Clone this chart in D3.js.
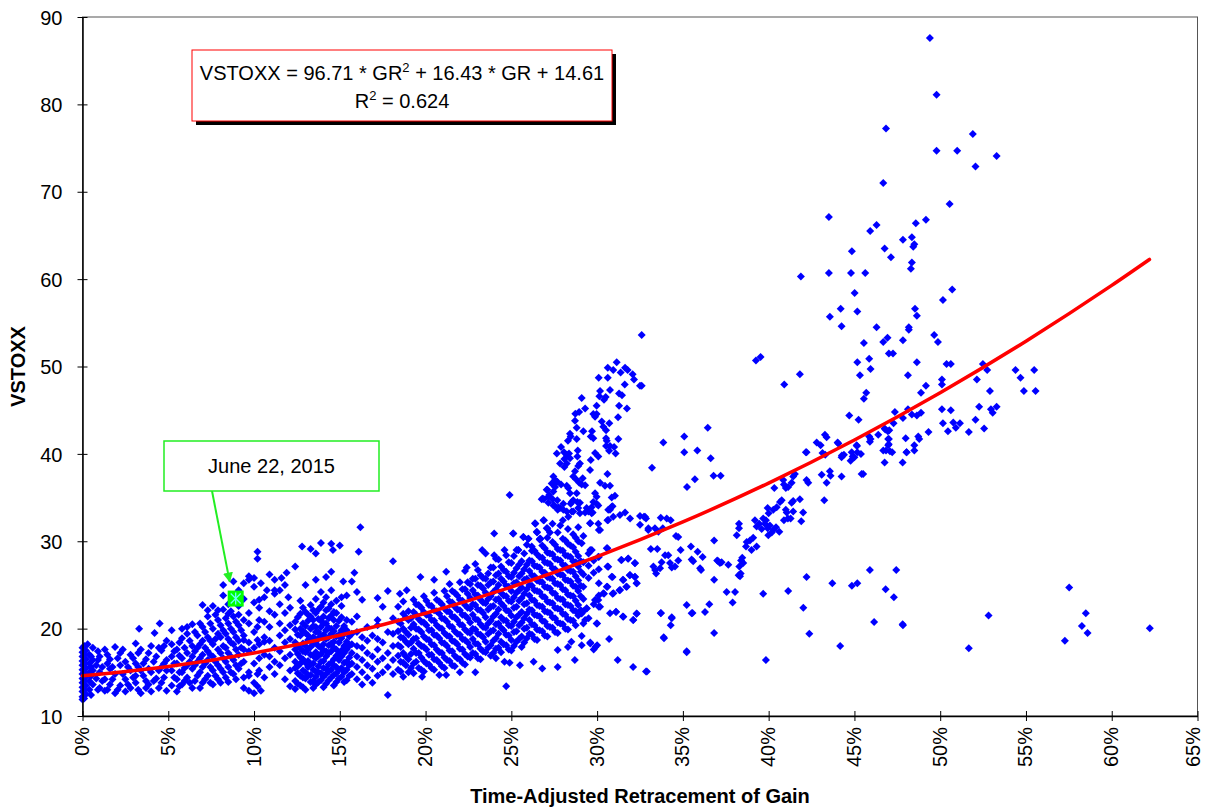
<!DOCTYPE html>
<html>
<head>
<meta charset="utf-8">
<script src="https://cdnjs.cloudflare.com/ajax/libs/d3/7.8.5/d3.min.js"></script>
<style>
  body { margin: 0; background: #fff; }
  svg text { font-family: "Liberation Sans", Arial, sans-serif; fill: #000; }
</style>
</head>
<body>
<svg id="chart" width="1206" height="807"></svg>
<script>
// x = time-adjusted retracement of gain (%), y = VSTOXX

// columns of the dense band near the axis, [gain, [vstoxx...]]
const band0to5 = [
  [0, [11.9, 12.2, 12.8, 13.3, 13.8, 14.3, 14.8, 15.3, 15.8, 16.3, 16.8, 17.3, 17.8]],
  [0.1, [12.0, 13.0, 14.0, 15.0, 16.0, 17.0, 18.0]],
  [0.2, [12.5, 13.5, 14.5, 15.5, 16.5, 17.5]], [0.3, [18.2]],
  [0.4, [13, 14, 15, 16, 17]], [0.5, [12.4, 14.6, 15.6, 16.8]],
  [0.6, [13.6, 15.2, 16.4, 17.8]], [0.8, [14.3, 15.8]], [0.9, [13.0, 16.4, 17.4]],
  [1, [13.2, 15, 16.8]], [1.15, [14.0, 15.6]], [1.3, [12.9, 14.2, 17.6]], [1.45, [13.0, 16.0, 17.0]],
  [1.6, [13.6, 15.4, 16.5]], [1.75, [14.2, 15.6]], [1.9, [12.6, 14.8, 17.9]], [2.05, [13.0, 16.6]],
  [2.2, [13.5, 15.8, 17.2]], [2.35, [14.8, 17.6]], [2.5, [12.8, 14.2, 16.2]], [2.65, [13.6, 15.6]],
  [2.8, [13.2, 15.2, 17.0]], [2.95, [14.4, 16.6]], [3.1, [13.8, 14.6, 16.0, 18.3]],
  [3.25, [13.0, 15.6, 17.2]], [3.3, [20.0]], [3.4, [12.6, 15.2, 17.6]], [3.55, [14.6, 16.0]],
  [3.7, [13.2, 14.0, 16.5]], [3.85, [13.6, 15.4, 17.2]], [4.0, [12.8, 15.0, 18.0]], [4.15, [14.0, 16.2]],
  [4.2, [19.5]], [4.3, [14.3, 16.8]], [4.45, [13.2, 15.2, 17.8]], [4.5, [20.6]],
  [4.6, [13.8, 15.6, 17.5]], [4.75, [14.4, 16.0, 18.0]], [4.9, [12.9, 15.2, 16.4, 18.6]]
];

const band5to12 = [
  [5.2, [13.5, 15.2, 16.8, 18.2, 19.8]], [5.35, [14.4, 16.0, 17.4]], [5.5, [12.8, 14.2, 16.0, 17.6]],
  [5.65, [13.4, 15.0, 16.9, 18.4]], [5.8, [13.6, 15.0, 16.6, 18.9, 20.0]], [5.95, [14.0, 15.5, 17.8]],
  [6.1, [14.4, 15.8, 17.2, 19.4, 20.2]], [6.25, [13.8, 16.2, 18.6]],
  [6.4, [13.2, 15.4, 16.8, 18.0, 20.5]], [6.55, [14.0, 15.8, 17.4, 19.6]], [6.7, [14.6, 16.2, 17.8, 19.2]],
  [6.85, [13.2, 15.0, 16.6, 18.2, 20.6]], [7.0, [13.8, 15.6, 17.0, 18.6, 20.2, 22.7]],
  [7.15, [14.2, 16.0, 17.8, 19.6]], [7.3, [14.6, 16.4, 17.4, 19.0, 21.4, 22.1]],
  [7.45, [13.8, 15.6, 17.0, 18.6, 20.6]], [7.6, [13.6, 15.2, 16.8, 18.2, 20.0, 22.6]],
  [7.75, [14.6, 16.2, 18.8, 21.6]], [7.9, [14.2, 15.8, 17.6, 19.4, 21.0, 22.1]],
  [8.05, [13.8, 15.4, 17.2, 19.0, 20.4]], [8.2, [15.0, 16.6, 18.0, 19.8, 22.2, 23.8, 25.0]],
  [8.35, [14.4, 16.2, 17.8, 19.4, 21.2]], [8.5, [13.9, 15.6, 17.2, 18.8, 20.6, 21.7, 22.8]],
  [8.65, [15.0, 16.8, 18.4, 20.0, 22.0]], [8.8, [14.8, 16.4, 18.2, 19.6, 21.4, 23.8, 25.4]],
  [8.95, [14.2, 15.8, 17.6, 19.0, 20.8]], [9.1, [15.4, 17.0, 18.6, 20.4, 21.6, 22.6, 24.4]],
  [9.25, [16.0, 17.8, 19.8]], [9.4, [13.2, 14.4, 16.2, 17.6, 18.7, 19.2, 21.0, 23.4, 25.2]],
  [9.7, [12.9, 14.6, 15.0, 17.4, 18.4, 20.6, 21.8, 25.6, 26.0]],
  [10.0, [12.6, 13.8, 16.0, 17.8, 19.6, 23.0, 24.8, 25.8]],
  [10.2, [13.4, 14.8, 18.7, 20.2, 28.0, 28.8]], [10.3, [15.2, 16.6, 18.2, 21.0, 22.4, 23.3]],
  [10.4, [12.9, 25.2]], [10.6, [14.4, 17.0, 18.5, 19.0, 20.8, 23.6]], [10.75, [24.4]],
  [10.9, [15.6, 16.8, 18.6, 20.2, 22.0, 26.2]], [11.2, [14.8, 16.2, 17.8, 21.6, 24.0, 24.4, 25.6]],
  [11.5, [15.8, 17.4, 19.2, 20.6, 22.8, 24.4]], [11.6, [25.8]],
  [11.8, [14.2, 16.6, 18.4, 19.8, 21.8, 25.0]], [11.9, [26.4]], [12.0, [23.6]],
  [12.1, [13.4, 15.2, 17.0, 18.8, 20.4, 22.4]]
];

const blob12to18 = [
  [12.4, [13.1, 14.0, 15.5, 16.2, 17.6, 18.4, 19.9, 20.8, 27.1]],
  [12.55, [13.7, 14.9, 15.7, 17.1, 18.0, 19.3, 21.3]],
  [12.7, [13.5, 14.6, 16.0, 16.7, 17.7, 19.2, 20.0, 21.7, 23.2]], [12.8, [29.4]],
  [12.85, [13.3, 14.4, 15.2, 16.5, 17.4, 18.3, 19.7, 20.6, 22.4]],
  [13.0, [13.0, 14.3, 15.0, 16.1, 17.3, 18.0, 19.5, 20.3, 21.9, 25.0]],
  [13.15, [14.6, 15.6, 16.3, 17.6, 18.7, 19.2, 20.9, 21.6]],
  [13.3, [13.9, 14.7, 15.9, 17.0, 17.9, 18.6, 20.0, 21.4, 22.7, 29.1]],
  [13.45, [13.2, 14.0, 15.3, 16.0, 16.9, 18.2, 19.0, 20.3, 21.0, 22.1]],
  [13.6, [13.6, 14.5, 15.1, 16.6, 17.3, 18.5, 19.6, 20.2, 21.8, 23.4, 25.6, 28.6]],
  [13.75, [13.9, 15.0, 15.7, 16.9, 18.0, 18.9, 19.6, 21.1, 22.2]],
  [13.9, [14.1, 14.9, 16.2, 17.1, 17.8, 19.1, 20.2, 20.9, 22.5, 24.2, 29.8]],
  [14.05, [13.3, 14.5, 15.5, 16.3, 17.5, 18.2, 19.3, 20.6, 21.4, 23.0]],
  [14.2, [13.7, 14.8, 15.4, 16.8, 17.4, 18.8, 19.8, 20.6, 22.1, 23.6, 25.9]],
  [14.35, [14.1, 15.1, 15.9, 17.2, 18.1, 19.0, 20.1, 21.2, 22.3]],
  [14.5, [14.4, 15.3, 16.1, 17.4, 18.3, 19.4, 20.0, 21.5, 22.8, 24.4, 26.5, 29.7]], [14.6, [29.0]],
  [14.65, [13.5, 14.7, 15.8, 16.5, 17.8, 18.5, 19.7, 21.0, 21.9]],
  [14.8, [13.9, 14.9, 15.6, 16.9, 17.6, 19.1, 20.3, 21.8, 23.2]],
  [14.95, [14.3, 15.3, 16.4, 17.1, 18.4, 19.3, 20.9]], [15.0, [29.5]],
  [15.1, [14.5, 15.5, 16.8, 17.5, 18.9, 19.8, 21.3, 22.6, 23.6]], [15.2, [25.4]],
  [15.25, [13.9, 15.0, 16.1, 17.2, 18.0, 19.4, 20.3]],
  [15.4, [14.1, 15.3, 16.2, 17.6, 18.5, 19.8, 21.0, 23.8]],
  [15.55, [14.6, 15.8, 16.7, 18.0, 19.1]],
  [15.7, [14.8, 16.0, 17.2, 18.2, 19.4, 20.8, 25.4]], [15.85, [26.4]],
  [16.0, [14.2, 15.6, 16.8, 18.0, 19.6, 21.4, 24.2]], [16.1, [28.8]], [16.2, [31.6]],
  [16.3, [13.6, 15.0, 16.4, 17.8, 19.0, 23.3]], [16.6, [14.4, 15.8, 17.2, 18.6, 20.2]],
  [16.9, [13.8, 15.4, 16.8, 19.2]], [17.2, [14.6, 16.2, 17.6, 18.8, 20.4, 21.0, 23.5]],
  [17.5, [15.0, 16.6, 18.4, 22.5]], [17.8, [12.4, 15.6, 17.2, 19.6, 24.3]],
  [18.1, [14.8, 16.4, 18.0, 19.4, 21.2, 27.7]]
];

const band18to33 = [
  [18.4, [15.3, 16.9, 18.1, 19.7, 20.8, 22.5]], [18.5, [24.0]], [18.55, [15.1, 16.2, 17.9, 19.0, 20.6]],
  [18.7, [14.5, 16.1, 17.2, 18.9, 20.0, 21.7, 23.1]], [18.85, [15.8, 16.8, 18.5, 19.6, 21.3]], [18.9, [24.4]],
  [19.0, [15.0, 16.5, 18.2, 19.3, 21.0, 22.0]], [19.15, [15.5, 17.1, 18.4, 20.1, 21.2]],
  [19.3, [14.9, 16.0, 17.7, 18.8, 20.5, 21.9, 23.3]], [19.45, [16.2, 17.2, 18.9, 20.0, 21.6, 22.8]],
  [19.6, [15.5, 17.2, 18.3, 19.9, 21.1, 22.7]], [19.7, [25.9]],
  [19.75, [15.3, 16.7, 18.0, 19.6, 20.8, 22.4]], [19.8, [14.5]],
  [19.9, [15.1, 16.3, 17.9, 19.1, 20.7, 21.9, 23.7]], [20.05, [16.0, 17.6, 18.8, 20.4, 21.6, 23.2]],
  [20.2, [15.9, 17.0, 18.7, 19.8, 21.5, 22.7]], [20.35, [15.5, 17.0, 18.2, 19.8, 21.0, 22.6]],
  [20.5, [15.3, 16.5, 18.1, 19.3, 20.9, 22.1, 24.1, 25.6]], [20.65, [16.4, 17.6, 19.2, 20.4, 22.0, 23.3]],
  [20.8, [14.7, 16.1, 17.3, 18.9, 20.1, 21.7, 23.1]], [20.95, [15.7, 17.2, 18.4, 20.0, 21.2, 22.8]],
  [21.1, [15.5, 16.7, 18.3, 19.5, 21.1, 22.3, 24.3]], [21.2, [14.7, 26.5]],
  [21.25, [16.4, 18.0, 19.2, 20.8, 22.0, 23.7]],
  [21.4, [16.3, 17.5, 19.1, 20.3, 21.9, 23.1, 25.1]], [21.55, [15.8, 17.4, 18.6, 20.2, 21.4, 23.0, 24.3]],
  [21.7, [15.7, 16.9, 18.5, 19.7, 21.3, 22.5, 24.1]], [21.85, [16.6, 18.2, 19.4, 21.0, 22.2, 23.8]],
  [22.0, [15.0, 16.5, 17.7, 19.3, 20.5, 22.1, 23.3, 25.3]],
  [22.15, [16.1, 17.6, 18.8, 20.4, 21.6, 23.2, 24.5]],
  [22.3, [15.9, 17.1, 18.7, 19.9, 21.5, 22.7, 24.5, 26.6]], [22.4, [27.0]],
  [22.45, [16.8, 18.4, 19.6, 21.2, 22.4, 24.0, 25.3]],
  [22.6, [16.7, 17.9, 19.5, 20.7, 22.3, 23.5, 25.1]], [22.75, [17.2, 18.8, 20.0, 21.6, 22.8, 24.4, 25.7]],
  [22.9, [15.0, 17.1, 18.3, 19.9, 21.1, 22.7, 23.9, 25.7, 27.4]],
  [23.05, [16.6, 18.2, 19.4, 21.0, 22.2, 23.8, 25.0, 26.7]],
  [23.2, [16.5, 17.7, 19.3, 20.5, 22.1, 23.3, 24.9, 26.1]], [23.3, [29.0]],
  [23.35, [17.4, 19.0, 20.2, 21.8, 23.0, 24.6, 25.8]],
  [23.5, [17.3, 18.5, 20.1, 21.3, 22.9, 24.1, 25.7, 28.6]], [23.65, [17.8, 19.4, 20.6, 22.2, 23.4, 25.0, 26.3]],
  [23.8, [16.9, 18.1, 19.7, 20.9, 22.5, 23.7, 25.3, 27.0]],
  [23.95, [17.2, 18.6, 19.8, 21.4, 22.6, 24.2, 25.4, 27.0]], [24.0, [28.4, 30.9]],
  [24.1, [16.6, 17.7, 18.9, 20.5, 21.7, 23.3, 24.5, 26.1, 28.0]],
  [24.25, [17.8, 19.4, 20.6, 22.2, 23.4, 25.0, 26.3, 27.9]],
  [24.4, [17.3, 18.5, 20.1, 21.3, 22.9, 24.1, 25.7, 27.1]],
  [24.55, [18.2, 19.8, 21.0, 22.6, 23.8, 25.4, 26.7]], [24.6, [16.2, 29.0]],
  [24.7, [13.4, 18.1, 19.3, 20.9, 22.1, 23.7, 24.9, 26.5, 28.4]],
  [24.85, [17.6, 19.2, 20.4, 22.0, 23.2, 24.8, 26.0, 27.6]], [24.9, [16.1, 35.3]],
  [25.0, [17.5, 18.7, 20.3, 21.5, 23.1, 24.3, 25.9, 27.5]], [25.1, [30.9]],
  [25.15, [18.0, 19.6, 20.8, 22.4, 23.6, 25.2, 26.4, 28.3]],
  [25.3, [18.5, 19.7, 21.3, 22.5, 24.1, 25.3, 26.9, 29.0]], [25.4, [29.0]],
  [25.45, [18.8, 20.4, 21.6, 23.2, 24.4, 26.0, 27.3]], [25.5, [15.8]],
  [25.6, [17.9, 19.1, 20.7, 21.9, 23.5, 24.7, 26.3, 27.7]], [25.7, [30.5]],
  [25.75, [18.4, 20.0, 21.2, 22.8, 24.0, 25.6, 26.8, 28.6]],
  [25.9, [18.9, 20.1, 21.7, 22.9, 24.5, 25.7, 27.3, 29.6]], [26.0, [30.3]],
  [26.05, [19.4, 21.0, 22.2, 23.8, 25.0, 26.6, 27.8]],
  [26.2, [19.3, 20.5, 22.1, 23.3, 24.9, 26.1, 27.7, 28.9]], [26.3, [16.2]],
  [26.35, [18.8, 20.4, 21.6, 23.2, 24.4, 26.0, 27.2, 28.9]], [26.4, [32.0]],
  [26.5, [18.7, 19.9, 21.5, 22.7, 24.3, 25.5, 27.1, 28.5, 31.0]],
  [26.65, [19.8, 21.4, 22.6, 24.2, 25.4, 27.0, 28.2, 30.2]], [26.7, [30.3]],
  [26.8, [15.45, 19.7, 20.9, 22.5, 23.7, 25.3, 26.5, 28.1, 29.5]], [26.9, [32.4, 34.8]],
  [26.95, [19.2, 20.8, 22.0, 23.6, 24.8, 26.4, 27.6, 29.2]],
  [27.1, [19.1, 20.3, 21.9, 23.1, 24.7, 25.9, 27.5, 28.7, 30.4, 31.5, 35.9]],
  [27.25, [20.2, 21.8, 23.0, 24.6, 25.8, 27.4, 28.6, 31.0]],
  [27.4, [20.1, 21.3, 22.9, 24.1, 25.7, 26.9, 28.5, 29.9, 32.0]], [27.5, [34.1, 36.6]],
  [27.55, [19.6, 21.2, 22.4, 24.0, 25.2, 26.8, 28.0, 29.6]],
  [27.7, [15.6, 17.55, 19.5, 20.7, 22.3, 23.5, 25.1, 26.3, 27.9, 29.1, 31.0, 33.6]],
  [27.85, [20.6, 22.2, 23.4, 25.0, 26.2, 27.8, 29.0, 31.8]],
  [28.0, [20.5, 21.7, 23.3, 24.5, 26.1, 27.3, 28.9, 30.3, 32.4]],
  [28.15, [20.0, 21.6, 22.8, 24.4, 25.6, 27.2, 28.4, 30.1]],
  [28.3, [17.9, 19.9, 21.1, 22.7, 23.9, 25.5, 26.7, 28.3, 29.7, 31.4]],
  [28.45, [21.0, 22.6, 23.8, 25.4, 26.6, 28.2, 29.5]], [28.5, [18.5]],
  [28.6, [20.9, 22.1, 23.7, 24.9, 26.5, 27.7, 29.3, 30.8]], [28.7, [16.4]],
  [28.75, [20.4, 22.0, 23.2, 24.8, 26.0, 27.6, 28.8, 30.4]],
  [28.9, [21.5, 22.7, 24.3, 25.5, 27.1, 28.3, 30.0, 31.6]],
  [29.05, [22.1, 23.7, 24.9, 26.5, 27.7]], [29.1, [18.1, 19.15, 21.74, 29.76]],
  [29.2, [20.6, 22.0, 23.4, 24.8, 26.2, 27.6, 30.6]], [29.4, [22.3]],
  [29.5, [21.2, 25.8, 27.2, 28.6]], [29.6, [18.3, 18.4, 29.0, 32.05]],
  [29.8, [17.6, 22.8, 26.4, 27.8]], [29.9, [17.9, 23.27]], [30.0, [18.1, 20.6]],
  [30.1, [22.5, 23.8, 25.2, 26.8, 28.2, 31.3]], [30.4, [24.0]], [30.6, [24.8, 27.1, 29.2, 32.4]],
  [30.7, [18.8]], [30.75, [21.75]], [30.9, [24.0, 25.9, 34.0]], [31.1, [21.9]], [31.2, [16.4]],
  [31.3, [24.4]], [31.4, [27.85]], [31.5, [21.4, 25.6]], [31.7, [24.8]], [31.8, [28.0]],
  [31.9, [26.1]], [32.1, [15.6, 21.0]], [32.2, [25.9, 27.5]], [32.3, [21.7, 25.2]], [32.9, [15.1]]
];

// the tower of high readings around 27-33 %
const tower = [
  [31.14, 50.5], [30.62, 49.85], [30.94, 49.6], [31.37, 49.3], [31.63, 49.85], [31.78, 49.6], [32.07, 49.1],
  [32.15, 48.5], [32.5, 47.8], [30.09, 48.7], [30.62, 48.7], [31.61, 47.95], [30.17, 47.2], [30.75, 47.3],
  [30.13, 46.6], [30.5, 46.5], [30.4, 46.2], [31.28, 46.9], [31.45, 46.7], [29.1, 46.4], [31.28, 45.5],
  [31.74, 45.2], [29.97, 45.5], [29.3, 45.2], [28.95, 44.8], [28.73, 44.6], [29.78, 44.55], [29.97, 44.55],
  [29.88, 44.25], [31.22, 44.2], [28.71, 43.8], [28.81, 43.0], [30.27, 43.7], [30.36, 43.1], [30.71, 43.5],
  [30.52, 42.7], [29.2, 42.6], [29.7, 42.6], [29.63, 42.0], [29.78, 41.8], [28.42, 42.3], [28.46, 42.0],
  [28.3, 41.5], [28.81, 41.7], [30.52, 41.8], [30.56, 41.5], [31.24, 41.7], [27.9, 40.8], [30.52, 40.9],
  [30.75, 40.9], [30.99, 40.8], [30.7, 40.35], [31.08, 40.05], [27.65, 40.05], [28.07, 40.2], [28.23, 39.9],
  [28.36, 40.05], [28.09, 39.4], [27.84, 38.9], [28.23, 38.9], [28.42, 39.5], [28.09, 38.5], [28.87, 40.4],
  [28.85, 39.7], [29.0, 38.9], [28.9, 38.6], [29.88, 40.1], [30.07, 39.7], [29.63, 39.3], [29.59, 38.15],
  [28.71, 38.0], [28.61, 37.4], [27.45, 37.4], [27.55, 37.0], [27.35, 36.6], [27.55, 36.2], [27.68, 36.8],
  [27.9, 36.5], [28.23, 36.35], [28.32, 36.1], [28.77, 37.1], [28.96, 36.7], [29.1, 36.5], [29.3, 36.4],
  [29.16, 37.2], [30.17, 36.7], [30.46, 36.35], [30.75, 36.35], [30.6, 37.7], [31.04, 35.2], [30.85, 35.0],
  [27.06, 35.9], [27.21, 35.3], [27.41, 34.8], [26.83, 34.9], [27.16, 34.4], [27.45, 34.1], [27.68, 34.7],
  [27.74, 33.9], [27.84, 33.8], [28.42, 35.5], [28.61, 34.7], [28.85, 34.5], [28.46, 34.3], [29.0, 34.4],
  [29.88, 35.5], [29.97, 35.1], [29.78, 34.5], [30.07, 34.1], [29.68, 33.9], [28.03, 33.6], [28.23, 33.4],
  [28.52, 33.4], [28.9, 33.8], [29.3, 33.3], [29.49, 33.4], [29.74, 33.3], [30.65, 33.6], [31.63, 33.3],
  [32.73, 32.8], [26.77, 34.8], [27.16, 35.1], [27.45, 35.7], [28.03, 34.3], [28.52, 34.5], [28.81, 35.5],
  [28.32, 32.8], [28.61, 33.4], [29.0, 33.2], [29.39, 33.8], [29.68, 33.2], [29.97, 34.3], [30.07, 32.0],
  [30.75, 33.6], [30.94, 32.8], [31.33, 33.0], [31.92, 32.6], [32.5, 32.9], [32.79, 32.8], [32.98, 31.3],
  [33.37, 31.5], [33.57, 31.1], [26.38, 32.05], [26.87, 32.4], [27.06, 31.5], [26.48, 31.1], [26.67, 30.3],
  [25.99, 30.3], [26.19, 29.4], [25.7, 30.5], [25.41, 29.0], [25.12, 30.9], [29.59, 32.05], [30.17, 31.28],
  [30.65, 32.43], [30.85, 33.95], [29.69, 28.99], [30.07, 28.23], [30.56, 29.19], [31.43, 27.85],
  [31.82, 28.04], [32.21, 27.47], [31.53, 25.56], [31.92, 26.13], [32.21, 25.94], [32.31, 25.18],
  [31.73, 24.79], [31.34, 24.42], [30.95, 24.04], [31.1, 21.93], [31.53, 21.36], [32.11, 20.98],
  [32.31, 21.74], [30.17, 22.51], [29.88, 23.27], [30.36, 24.04], [29.39, 22.32], [29.3, 20.98],
  [29.97, 20.6], [30.07, 23.27], [30.56, 24.79], [30.85, 25.93], [30.65, 27.07]
];

const spread33to48 = [
  [32.6, 53.6], [32.6, 47.8], [33.86, 41.3], [33.2, 38.4], [35.08, 42.0], [35.08, 40.2], [35.84, 40.4],
  [35.7, 37.1], [35.24, 36.2], [36.45, 43.0], [36.62, 39.5], [36.79, 37.5], [37.2, 37.5], [35.86, 28.8],
  [36.15, 28.2], [36.0, 26.9], [36.06, 26.7], [35.6, 27.7], [35.51, 27.9], [34.87, 29.0], [34.73, 27.8],
  [34.54, 27.1], [34.35, 27.0], [34.25, 27.5], [34.15, 28.4], [33.96, 28.4], [33.76, 27.6], [33.67, 26.9],
  [33.38, 26.7], [33.44, 26.3], [33.28, 27.1], [33.13, 29.1], [33.51, 29.1], [33.71, 32.7], [34.06, 32.6],
  [34.29, 32.4], [33.83, 31.5], [32.99, 31.5], [32.5, 31.9], [32.85, 32.6], [34.6, 30.6], [34.73, 30.5],
  [35.47, 29.4], [36.82, 30.1], [37.0, 27.8], [37.16, 27.5], [37.65, 27.3], [37.26, 27.6], [37.06, 27.7],
  [36.82, 25.6], [35.22, 22.7], [35.51, 21.75], [35.22, 17.3], [33.71, 21.75], [34.35, 21.2], [34.29, 20.4],
  [33.88, 19.0], [32.85, 15.1], [36.29, 21.9], [36.54, 22.8], [36.82, 19.5], [37.55, 24.2], [38.04, 24.2],
  [37.9, 23.0], [39.68, 24.0], [39.84, 16.4], [41.14, 24.3], [42.02, 22.4], [42.37, 19.4], [42.21, 25.9],
  [43.71, 25.2], [44.17, 18.0], [44.85, 24.9], [45.17, 25.2], [45.9, 26.7], [46.15, 20.75], [46.82, 24.5],
  [47.3, 23.6], [47.44, 26.7], [47.81, 20.5], [38.33, 26.0], [38.37, 26.3], [38.46, 28.1], [38.39, 27.8],
  [38.52, 27.5], [38.29, 27.1], [38.25, 26.1], [38.14, 30.7], [38.27, 31.5], [38.27, 32.0], [38.72, 29.9],
  [38.68, 29.4], [39.1, 30.4], [39.3, 29.4], [39.0, 29.0], [38.91, 30.1], [39.45, 32.0], [39.59, 31.4],
  [39.3, 31.7], [39.2, 32.4], [39.68, 32.6], [39.84, 32.4], [40.07, 31.8], [39.78, 32.0], [39.94, 31.5],
  [40.18, 31.0], [39.98, 30.7], [40.27, 31.3], [40.43, 31.6], [40.62, 31.1], [39.94, 33.8], [40.0, 33.2],
  [40.66, 34.5], [40.76, 34.7], [40.47, 33.9], [40.27, 33.6], [40.33, 36.1], [41.0, 33.6], [41.05, 33.3],
  [40.89, 32.4], [41.12, 32.6], [41.34, 34.4], [41.43, 34.6], [41.28, 32.6], [41.43, 33.4], [41.82, 34.8],
  [42.01, 33.3], [41.9, 32.3], [41.43, 37.4], [41.53, 37.7], [41.34, 36.7], [41.14, 36.2], [40.85, 37.0],
  [40.89, 36.5], [41.0, 36.1], [42.21, 37.0], [42.31, 36.7], [43.24, 34.7], [42.21, 40.2], [43.57, 38.0],
  [43.61, 37.5], [43.09, 37.6], [43.38, 36.7], [43.14, 40.1], [43.3, 39.9], [44.25, 37.4], [45.42, 37.7],
  [45.51, 37.7], [44.06, 41.2], [44.25, 39.6], [44.39, 39.9], [44.78, 39.2], [44.9, 39.7], [45.15, 40.9],
  [45.17, 40.2], [45.38, 40.0], [46.76, 39.0], [47.81, 39.0], [48.04, 40.2], [39.26, 50.7], [39.53, 51.1],
  [40.91, 47.95], [35.56, 21.8], [33.72, 21.8], [33.9, 18.9], [34.35, 21.3], [35.22, 17.4]
];

const upper42to56 = [
  [49.4, 87.6], [49.79, 81.1], [46.84, 77.24], [51.9, 76.6], [49.79, 74.7], [50.99, 74.7], [53.29, 74.1],
  [52.06, 72.9], [46.68, 71.0], [50.55, 68.6], [43.51, 67.1], [49.17, 66.8], [46.29, 66.2], [45.92, 65.5],
  [48.58, 66.4], [47.83, 64.5], [48.35, 64.8], [48.49, 64.0], [48.43, 63.7], [46.76, 63.5], [44.85, 63.2],
  [47.13, 62.5], [48.35, 61.9], [48.29, 61.2], [41.88, 60.3], [43.51, 60.7], [44.8, 60.7], [45.63, 60.7],
  [45.01, 58.4], [50.7, 58.8], [50.16, 57.6], [43.57, 55.7], [44.2, 56.6], [45.17, 56.3], [44.25, 54.6],
  [48.53, 56.6], [48.64, 55.8], [46.29, 54.5], [46.93, 53.3], [46.68, 52.8], [48.17, 54.5], [48.17, 54.2],
  [47.83, 53.0], [49.65, 53.6], [49.87, 52.8], [45.55, 52.7], [45.86, 50.9], [45.94, 49.7], [45.17, 50.5],
  [45.32, 49.0], [47.01, 51.5], [47.25, 51.5], [48.64, 50.5], [48.12, 49.0], [50.37, 50.3], [50.62, 50.3],
  [52.49, 50.3], [52.74, 49.6], [54.39, 49.6], [55.48, 49.6], [54.68, 48.7], [54.88, 47.2], [55.56, 47.2],
  [52.9, 47.2], [52.14, 48.5], [50.1, 48.5], [50.1, 47.95], [49.17, 47.8], [48.88, 47.0], [45.69, 47.0],
  [45.55, 46.3], [44.7, 44.4], [45.24, 43.9], [47.36, 44.8], [48.12, 45.1], [48.35, 44.5], [48.64, 44.4],
  [48.88, 44.7], [47.83, 44.1], [47.28, 43.5], [50.1, 45.1], [50.62, 45.0], [50.16, 43.5], [50.76, 43.6],
  [50.91, 43.0], [51.15, 43.5], [50.45, 42.6], [52.06, 43.9], [52.27, 45.4], [52.96, 45.1], [53.06, 44.7],
  [53.29, 45.4], [52.56, 42.9], [51.67, 42.5], [49.32, 42.5], [46.76, 42.9], [46.95, 42.6], [46.39, 42.2],
  [45.86, 42.0], [45.94, 41.7], [45.9, 41.4], [45.13, 41.0], [44.02, 41.3], [43.28, 42.2], [43.38, 41.9],
  [42.8, 41.3], [43.03, 41.0], [42.17, 40.2], [44.27, 39.8], [44.84, 40.2], [47.01, 41.7], [47.0, 41.1],
  [46.68, 40.4], [47.07, 40.3], [47.99, 41.8], [48.04, 40.2], [48.49, 41.0], [48.49, 40.4], [48.72, 42.0],
  [48.78, 41.7], [41.82, 49.1], [45.0, 39.6], [46.8, 42.8], [47.03, 42.7], [46.97, 41.7], [46.97, 41.0],
  [46.84, 40.4], [47.2, 40.2]
];

const lowRight = [
  [57.52, 24.7], [52.82, 21.5], [47.83, 20.4], [51.67, 17.75], [58.49, 21.75], [58.26, 20.3],
  [58.59, 19.5], [57.27, 18.6], [62.22, 20.05]
];

// fitted curve
const trendGain = [0, 5, 10, 15, 20, 25, 30, 35, 40, 45, 50, 55, 60, 62.2];
const trendVstoxx = [14.61, 15.67, 17.22, 19.25, 21.76, 24.76, 28.24, 32.21, 36.66, 41.59, 47.0, 52.9, 59.28, 62.25];

const junePoint = [8.93, 23.44];
const xTicks = [0, 5, 10, 15, 20, 25, 30, 35, 40, 45, 50, 55, 60, 65];
const yTicks = [10, 20, 30, 40, 50, 60, 70, 80, 90];

const flatten = cols => cols.flatMap(([g, vs]) => vs.map(v => [g, v]));
const points = [].concat(
  flatten(band0to5), flatten(band5to12), flatten(blob12to18), flatten(band18to33),
  tower, spread33to48, upper42to56, lowRight
);

const margin = {top: 17, right: 8.5, bottom: 91, left: 82.5};
const W = 1206, H = 807;

const svg = d3.select("#chart");

const x = d3.scaleLinear().domain([0, 65]).range([margin.left, W - margin.right]);
const y = d3.scaleLinear().domain([10, 90]).range([H - margin.bottom, margin.top]);

// plot frame
svg.append("rect")
    .attr("x", x(0)).attr("y", y(90))
    .attr("width", x(65) - x(0)).attr("height", y(10) - y(90))
    .attr("fill", "none")
    .attr("stroke", "#555").attr("stroke-width", 1);

// points
svg.append("g").selectAll("path")
    .data(points)
  .enter().append("path")
    .attr("d", "M0,-4L4,0L0,4L-4,0Z")
    .attr("transform", d => "translate(" + x(d[0]) + "," + y(d[1]) + ")")
    .attr("fill", "#0000ff");

// trend line
const trend = trendGain.map((g, i) => [g, trendVstoxx[i]]);
svg.append("path")
    .datum(trend)
    .attr("fill", "none")
    .attr("stroke", "#ff0000")
    .attr("stroke-width", 3.5)
    .attr("stroke-linecap", "round")
    .attr("d", d3.line().x(d => x(d[0])).y(d => y(d[1])).curve(d3.curveMonotoneX));

// axes
const xAxis = svg.append("g")
    .attr("transform", "translate(0," + y(10) + ")")
    .call(d3.axisBottom(x).tickValues(xTicks).tickFormat(d => d + "%").tickSizeOuter(0));
xAxis.select(".domain").attr("stroke", "#000").attr("stroke-width", 1.5);
xAxis.selectAll(".tick line").attr("y1", -5).attr("y2", 5).attr("stroke", "#000");
xAxis.selectAll(".tick text")
    .attr("transform", "rotate(-90)")
    .attr("x", -11).attr("y", 0)
    .attr("dy", d => d === 65 ? "0.12em" : "0.3em")
    .style("text-anchor", "end")
    .style("font-size", "20px");

const yAxis = svg.append("g")
    .attr("transform", "translate(" + x(0) + ",0)")
    .call(d3.axisLeft(y).tickValues(yTicks).tickSizeOuter(0));
yAxis.select(".domain").attr("stroke", "#000").attr("stroke-width", 1.5);
yAxis.selectAll(".tick line").attr("x1", -5).attr("x2", 5).attr("stroke", "#000");
yAxis.selectAll(".tick text")
    .attr("x", -20).attr("dy", "0.36em")
    .style("font-size", "20px");

svg.append("text")
    .attr("transform", "translate(25," + ((y(10) + y(90)) / 2) + ") rotate(-90)")
    .style("text-anchor", "middle")
    .style("font-size", "20px").style("font-weight", "bold")
    .text("VSTOXX");

svg.append("text")
    .attr("x", (x(0) + x(65)) / 2).attr("y", 803)
    .style("text-anchor", "middle")
    .style("font-size", "20px").style("font-weight", "bold")
    .text("Time-Adjusted Retracement of Gain");

// June 22, 2015 marker + callout
const jx = x(junePoint[0]), jy = y(junePoint[1]);
const jm = svg.append("g").attr("transform", "translate(" + jx + "," + jy + ")");
jm.append("rect").attr("x", -8).attr("y", -8).attr("width", 16).attr("height", 16).attr("fill", "#00ff00");
[[0, -6, 0, 6], [-5, -5, 5, 5], [-5, 5, 5, -5]].forEach(l => {
  jm.append("line").attr("x1", l[0]).attr("y1", l[1]).attr("x2", l[2]).attr("y2", l[3])
      .attr("stroke", "#66ffff").attr("stroke-width", 1.3);
});

svg.append("defs").append("marker")
    .attr("id", "arrow").attr("viewBox", "0 0 10 10")
    .attr("refX", 9).attr("refY", 5)
    .attr("markerWidth", 5).attr("markerHeight", 5)
    .attr("orient", "auto")
  .append("path").attr("d", "M0,0L10,5L0,10Z").attr("fill", "#22ee22");

svg.append("line")
    .attr("x1", 212).attr("y1", 491)
    .attr("x2", jx - 6).attr("y2", jy - 17)
    .attr("stroke", "#22ee22").attr("stroke-width", 2)
    .attr("marker-end", "url(#arrow)");

svg.append("rect")
    .attr("x", 164).attr("y", 441).attr("width", 215).attr("height", 50)
    .attr("fill", "#fff").attr("stroke", "#22ee22").attr("stroke-width", 1.5);
svg.append("text")
    .attr("x", 271.5).attr("y", 473)
    .style("text-anchor", "middle").style("font-size", "20px")
    .text("June 22, 2015");

// equation box
svg.append("rect")
    .attr("x", 196).attr("y", 54).attr("width", 420).attr("height", 71)
    .attr("fill", "#000");
svg.append("rect")
    .attr("x", 192).attr("y", 50).attr("width", 420).attr("height", 71)
    .attr("fill", "#fff").attr("stroke", "#ff0000").attr("stroke-width", 1);

const eq1 = svg.append("text")
    .attr("x", 402).attr("y", 80)
    .style("text-anchor", "middle").style("font-size", "20px");
eq1.append("tspan").text("VSTOXX = 96.71 * GR");
eq1.append("tspan").attr("dy", -8).style("font-size", "13px").text("2");
eq1.append("tspan").attr("dy", 8).text(" + 16.43 * GR + 14.61");

const eq2 = svg.append("text")
    .attr("x", 402).attr("y", 108)
    .style("text-anchor", "middle").style("font-size", "20px");
eq2.append("tspan").text("R");
eq2.append("tspan").attr("dy", -8).style("font-size", "13px").text("2");
eq2.append("tspan").attr("dy", 8).text(" = 0.624");
</script>
</body>
</html>
